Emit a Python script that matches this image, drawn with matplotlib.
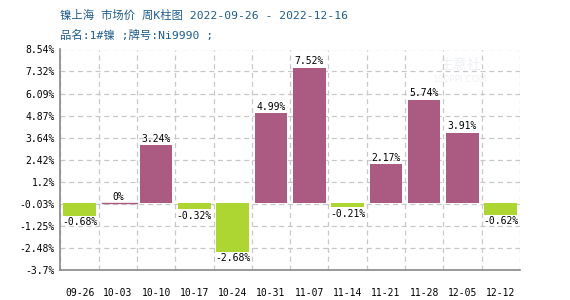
import numpy as np
import matplotlib.pyplot as plt

weeks = ['09-26', '10-03', '10-10', '10-17', '10-24', '10-31',
         '11-07', '11-14', '11-21', '11-28', '12-05', '12-12']
change_pct = [-0.68, 0, 3.24, -0.32, -2.68, 4.99, 7.52, -0.21, 2.17, 5.74, 3.91, -0.62]
yticks = [-3.7, -2.48, -1.25, -0.03, 1.2, 2.42, 3.64, 4.87, 6.09, 7.32, 8.54]

UP = '#AB5A82'
DOWN = '#AED633'
TXT = '#1F5C8C'
MONO = ['DejaVu Sans Mono', 'Noto Sans CJK SC']

fig = plt.figure(figsize=(5.7, 3.0), dpi=100)
ax = fig.add_axes([0.106, 0.1, 0.806, 0.735])

x = np.arange(len(weeks))
colors = [UP if v >= 0 else DOWN for v in change_pct]
ax.bar(x, change_pct, width=0.85, color=colors, zorder=3)
# zero-value week shows as a thin line
for xi, v in zip(x, change_pct):
    if v == 0:
        ax.plot([xi - 0.425, xi + 0.5], [0, 0], color=UP, lw=1, zorder=3)

for xi, v in zip(x, change_pct):
    lab = '0%' if v == 0 else f'{v:.2f}%'
    if v >= 0:
        ax.text(xi, v + 0.08, lab, ha='center', va='bottom', fontsize=7,
                family=MONO, color='black', zorder=4)
    else:
        ax.text(xi, v - 0.08, lab, ha='center', va='top', fontsize=7,
                family=MONO, color='black', zorder=4)

ax.set_xlim(-0.5, len(weeks) - 0.5)
ax.set_ylim(-3.7, 8.54)
ax.set_yticks(yticks)
ax.set_yticklabels([f'{t:g}%' for t in yticks], family=MONO, fontsize=7)
ax.set_xticks(x)
ax.set_xticklabels(weeks, family=MONO, fontsize=7)
ax.tick_params(length=0, pad=4)
ax.tick_params(axis='x', pad=13)

ax.set_xticks(np.arange(len(weeks) + 1) - 0.5, minor=True)
ax.tick_params(which='minor', length=0)
ax.grid(axis='x', which='minor', color='#C8C8C8', ls=(0, (4, 3)), lw=0.9, zorder=0)
ax.grid(axis='y', which='major', color='#C8C8C8', ls=(0, (4, 3)), lw=0.9, zorder=0)

for s in ['top', 'right']:
    ax.spines[s].set_visible(False)
for s in ['left', 'bottom']:
    ax.spines[s].set_color('#888888')
    ax.spines[s].set_linewidth(1.2)

# faint watermark
ax.text(0.87, 0.93, '生意社', transform=ax.transAxes, fontsize=10,
        family='Noto Sans CJK SC', color='#EEF0F3', ha='center', va='center', zorder=1)
ax.text(0.87, 0.865, '100PPI.COM', transform=ax.transAxes, fontsize=6.5,
        color='#EEF0F3', ha='center', va='center', zorder=1)

fig.text(0.106, 0.95, '镍上海 市场价 周K柱图 2022-09-26 - 2022-12-16',
         family=MONO, fontsize=8.2, color=TXT, va='center', ha='left')
fig.text(0.106, 0.883, '品名:1#镍 ;牌号:Ni9990 ;',
         family=MONO, fontsize=8.2, color=TXT, va='center', ha='left')

fig.savefig('out.png', dpi=100)
